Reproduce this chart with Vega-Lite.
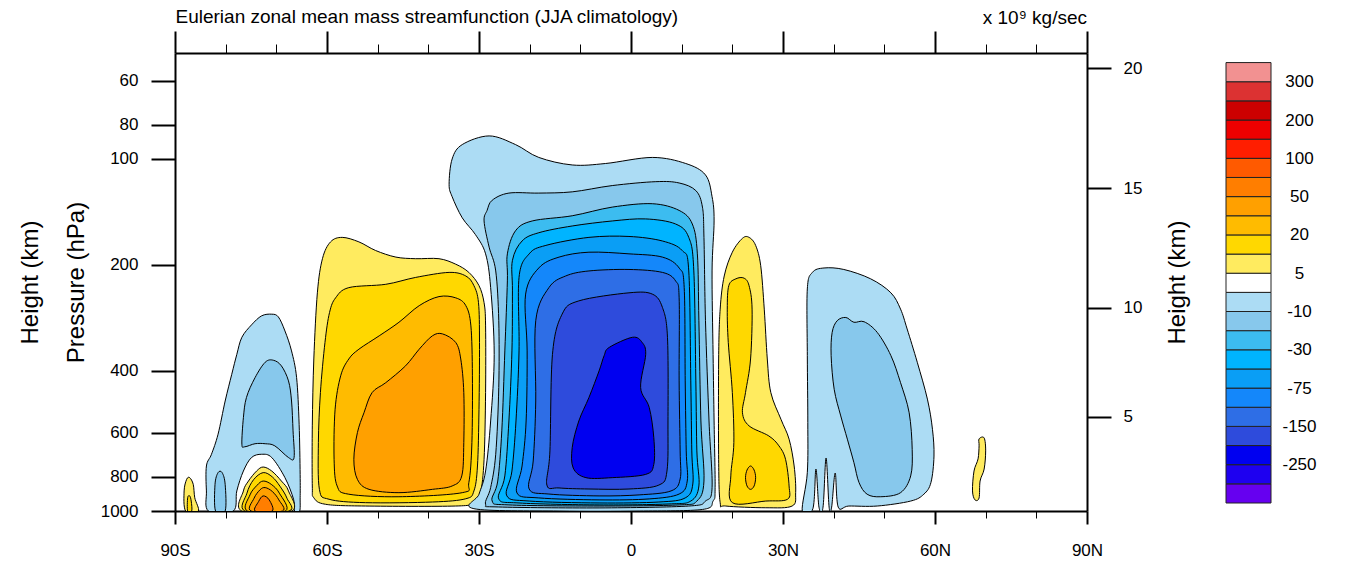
{
  "$schema": "https://vega.github.io/schema/vega-lite/v6.json",
  "padding": {"left": 18, "top": 7, "right": 0, "bottom": 0},
  "background": "white",
  "config": {
    "font": "Liberation Sans",
    "view": {"stroke": null},
    "axis": {"domainColor": "black", "tickColor": "black", "labelColor": "black", "titleColor": "black", "grid": false, "labelFont": "Liberation Sans", "titleFont": "Liberation Sans", "titleFontWeight": "normal"},
    "title": {"font": "Liberation Sans", "fontWeight": "normal", "color": "black"}
  },
  "datasets": {
    "poly": [
      {"g":"SHF5","lev":5,"x":-57.0,"y":167},{"g":"SHF5","lev":5,"x":-53.7,"y":172},{"g":"SHF5","lev":5,"x":-50.4,"y":182},{"g":"SHF5","lev":5,"x":-46.4,"y":190},{"g":"SHF5","lev":5,"x":-42.5,"y":192},{"g":"SHF5","lev":5,"x":-37.9,"y":192},{"g":"SHF5","lev":5,"x":-34.6,"y":199},{"g":"SHF5","lev":5,"x":-32.0,"y":210},{"g":"SHF5","lev":5,"x":-30.0,"y":229},{"g":"SHF5","lev":5,"x":-29.0,"y":256},{"g":"SHF5","lev":5,"x":-28.7,"y":298},{"g":"SHF5","lev":5,"x":-28.7,"y":461},{"g":"SHF5","lev":5,"x":-29.0,"y":713},{"g":"SHF5","lev":5,"x":-29.7,"y":887},{"g":"SHF5","lev":5,"x":-31.0,"y":947},{"g":"SHF5","lev":5,"x":-34.6,"y":968},{"g":"SHF5","lev":5,"x":-52.4,"y":968},{"g":"SHF5","lev":5,"x":-60.3,"y":957},{"g":"SHF5","lev":5,"x":-62.6,"y":917},{"g":"SHF5","lev":5,"x":-62.9,"y":849},{"g":"SHF5","lev":5,"x":-62.9,"y":573},{"g":"SHF5","lev":5,"x":-62.6,"y":370},{"g":"SHF5","lev":5,"x":-61.9,"y":240},{"g":"SHF5","lev":5,"x":-60.9,"y":192},{"g":"SHF5","lev":5,"x":-59.3,"y":172},
      {"g":"SHF10","lev":10,"x":-58.3,"y":248},{"g":"SHF10","lev":10,"x":-55.7,"y":232},{"g":"SHF10","lev":10,"x":-48.4,"y":227},{"g":"SHF10","lev":10,"x":-42.5,"y":217},{"g":"SHF10","lev":10,"x":-35.9,"y":210},{"g":"SHF10","lev":10,"x":-32.6,"y":215},{"g":"SHF10","lev":10,"x":-31.0,"y":229},{"g":"SHF10","lev":10,"x":-30.1,"y":256},{"g":"SHF10","lev":10,"x":-29.9,"y":332},{"g":"SHF10","lev":10,"x":-30.0,"y":514},{"g":"SHF10","lev":10,"x":-30.3,"y":745},{"g":"SHF10","lev":10,"x":-31.0,"y":877},{"g":"SHF10","lev":10,"x":-32.6,"y":923},{"g":"SHF10","lev":10,"x":-39.2,"y":943},{"g":"SHF10","lev":10,"x":-52.4,"y":947},{"g":"SHF10","lev":10,"x":-59.6,"y":926},{"g":"SHF10","lev":10,"x":-61.5,"y":868},{"g":"SHF10","lev":10,"x":-61.7,"y":639},{"g":"SHF10","lev":10,"x":-61.3,"y":461},{"g":"SHF10","lev":10,"x":-60.4,"y":332},{"g":"SHF10","lev":10,"x":-59.5,"y":273},
      {"g":"SHF20","lev":20,"x":-53.7,"y":347},{"g":"SHF20","lev":20,"x":-49.7,"y":318},{"g":"SHF20","lev":20,"x":-45.8,"y":291},{"g":"SHF20","lev":20,"x":-41.8,"y":261},{"g":"SHF20","lev":20,"x":-37.9,"y":246},{"g":"SHF20","lev":20,"x":-34.6,"y":248},{"g":"SHF20","lev":20,"x":-32.6,"y":261},{"g":"SHF20","lev":20,"x":-31.6,"y":298},{"g":"SHF20","lev":20,"x":-31.3,"y":413},{"g":"SHF20","lev":20,"x":-31.4,"y":639},{"g":"SHF20","lev":20,"x":-32.0,"y":830},{"g":"SHF20","lev":20,"x":-33.3,"y":887},{"g":"SHF20","lev":20,"x":-45.8,"y":911},{"g":"SHF20","lev":20,"x":-55.7,"y":896},{"g":"SHF20","lev":20,"x":-58.0,"y":849},{"g":"SHF20","lev":20,"x":-58.6,"y":713},{"g":"SHF20","lev":20,"x":-58.4,"y":514},{"g":"SHF20","lev":20,"x":-57.3,"y":413},{"g":"SHF20","lev":20,"x":-55.7,"y":370},
      {"g":"SHF30","lev":30,"x":-37.2,"y":314},{"g":"SHF30","lev":30,"x":-34.6,"y":332},{"g":"SHF30","lev":30,"x":-33.6,"y":370},{"g":"SHF30","lev":30,"x":-33.0,"y":461},{"g":"SHF30","lev":30,"x":-33.0,"y":639},{"g":"SHF30","lev":30,"x":-33.4,"y":795},{"g":"SHF30","lev":30,"x":-35.3,"y":849},{"g":"SHF30","lev":30,"x":-39.2,"y":868},{"g":"SHF30","lev":30,"x":-45.8,"y":887},{"g":"SHF30","lev":30,"x":-51.7,"y":868},{"g":"SHF30","lev":30,"x":-54.0,"y":813},{"g":"SHF30","lev":30,"x":-54.7,"y":713},{"g":"SHF30","lev":30,"x":-54.0,"y":599},{"g":"SHF30","lev":30,"x":-52.7,"y":526},{"g":"SHF30","lev":30,"x":-51.1,"y":461},{"g":"SHF30","lev":30,"x":-48.4,"y":432},{"g":"SHF30","lev":30,"x":-44.5,"y":387},{"g":"SHF30","lev":30,"x":-41.8,"y":347},{"g":"SHF30","lev":30,"x":-39.2,"y":318},
      {"g":"H5","lev":-5,"x":-31.0,"y":985},{"g":"H5","lev":-5,"x":-30.0,"y":896},{"g":"H5","lev":-5,"x":-28.7,"y":770},{"g":"H5","lev":-5,"x":-27.7,"y":555},{"g":"H5","lev":-5,"x":-27.0,"y":359},{"g":"H5","lev":-5,"x":-27.7,"y":232},{"g":"H5","lev":-5,"x":-28.7,"y":186},{"g":"H5","lev":-5,"x":-30.7,"y":164},{"g":"H5","lev":-5,"x":-33.3,"y":147},{"g":"H5","lev":-5,"x":-35.3,"y":128},{"g":"H5","lev":-5,"x":-35.9,"y":118},{"g":"H5","lev":-5,"x":-35.3,"y":100},{"g":"H5","lev":-5,"x":-33.3,"y":91},{"g":"H5","lev":-5,"x":-28.0,"y":86},{"g":"H5","lev":-5,"x":-22.8,"y":91},{"g":"H5","lev":-5,"x":-18.2,"y":99},{"g":"H5","lev":-5,"x":-11.6,"y":104},{"g":"H5","lev":-5,"x":-5.0,"y":103},{"g":"H5","lev":-5,"x":4.2,"y":99},{"g":"H5","lev":-5,"x":10.8,"y":103},{"g":"H5","lev":-5,"x":14.7,"y":111},{"g":"H5","lev":-5,"x":16.0,"y":128},{"g":"H5","lev":-5,"x":16.4,"y":150},{"g":"H5","lev":-5,"x":16.0,"y":208},{"g":"H5","lev":-5,"x":16.2,"y":359},{"g":"H5","lev":-5,"x":16.4,"y":555},{"g":"H5","lev":-5,"x":16.6,"y":858},{"g":"H5","lev":-5,"x":16.2,"y":937},{"g":"H5","lev":-5,"x":14.1,"y":990},{"g":"H5","lev":-5,"x":1.6,"y":1000},{"g":"H5","lev":-5,"x":-14.2,"y":1000},
      {"g":"H10","lev":-10,"x":-28.7,"y":957},{"g":"H10","lev":-10,"x":-27.7,"y":858},{"g":"H10","lev":-10,"x":-26.7,"y":690},{"g":"H10","lev":-10,"x":-26.1,"y":446},{"g":"H10","lev":-10,"x":-26.1,"y":288},{"g":"H10","lev":-10,"x":-26.7,"y":208},{"g":"H10","lev":-10,"x":-28.0,"y":178},{"g":"H10","lev":-10,"x":-29.0,"y":150},{"g":"H10","lev":-10,"x":-28.4,"y":140},{"g":"H10","lev":-10,"x":-27.4,"y":131},{"g":"H10","lev":-10,"x":-24.1,"y":125},{"g":"H10","lev":-10,"x":-18.2,"y":125},{"g":"H10","lev":-10,"x":-11.6,"y":124},{"g":"H10","lev":-10,"x":-3.7,"y":119},{"g":"H10","lev":-10,"x":4.9,"y":116},{"g":"H10","lev":-10,"x":9.5,"y":117},{"g":"H10","lev":-10,"x":12.8,"y":123},{"g":"H10","lev":-10,"x":14.1,"y":137},{"g":"H10","lev":-10,"x":14.4,"y":167},{"g":"H10","lev":-10,"x":14.7,"y":288},{"g":"H10","lev":-10,"x":15.4,"y":555},{"g":"H10","lev":-10,"x":16.0,"y":858},{"g":"H10","lev":-10,"x":14.7,"y":937},{"g":"H10","lev":-10,"x":11.4,"y":968},{"g":"H10","lev":-10,"x":-6.3,"y":980},{"g":"H10","lev":-10,"x":-26.1,"y":974},
      {"g":"H20","lev":-20,"x":-27.4,"y":937},{"g":"H20","lev":-20,"x":-26.3,"y":822},{"g":"H20","lev":-20,"x":-25.5,"y":592},{"g":"H20","lev":-20,"x":-24.9,"y":351},{"g":"H20","lev":-20,"x":-24.4,"y":222},{"g":"H20","lev":-20,"x":-24.4,"y":186},{"g":"H20","lev":-20,"x":-22.8,"y":160},{"g":"H20","lev":-20,"x":-19.5,"y":150},{"g":"H20","lev":-20,"x":-11.6,"y":145},{"g":"H20","lev":-20,"x":-3.7,"y":137},{"g":"H20","lev":-20,"x":4.2,"y":134},{"g":"H20","lev":-20,"x":9.5,"y":140},{"g":"H20","lev":-20,"x":12.1,"y":153},{"g":"H20","lev":-20,"x":13.1,"y":186},{"g":"H20","lev":-20,"x":13.4,"y":288},{"g":"H20","lev":-20,"x":13.8,"y":555},{"g":"H20","lev":-20,"x":14.4,"y":822},{"g":"H20","lev":-20,"x":13.0,"y":937},{"g":"H20","lev":-20,"x":9.5,"y":961},{"g":"H20","lev":-20,"x":-6.3,"y":968},{"g":"H20","lev":-20,"x":-24.1,"y":961},
      {"g":"H30","lev":-30,"x":-26.1,"y":924},{"g":"H30","lev":-30,"x":-24.9,"y":795},{"g":"H30","lev":-30,"x":-24.1,"y":555},{"g":"H30","lev":-30,"x":-23.5,"y":351},{"g":"H30","lev":-30,"x":-23.4,"y":237},{"g":"H30","lev":-30,"x":-23.4,"y":194},{"g":"H30","lev":-30,"x":-21.5,"y":171},{"g":"H30","lev":-30,"x":-18.2,"y":162},{"g":"H30","lev":-30,"x":-11.6,"y":155},{"g":"H30","lev":-30,"x":-3.7,"y":150},{"g":"H30","lev":-30,"x":2.9,"y":148},{"g":"H30","lev":-30,"x":8.8,"y":153},{"g":"H30","lev":-30,"x":11.4,"y":167},{"g":"H30","lev":-30,"x":12.4,"y":208},{"g":"H30","lev":-30,"x":12.8,"y":427},{"g":"H30","lev":-30,"x":13.0,"y":675},{"g":"H30","lev":-30,"x":13.4,"y":849},{"g":"H30","lev":-30,"x":11.8,"y":937},{"g":"H30","lev":-30,"x":7.5,"y":955},{"g":"H30","lev":-30,"x":-6.3,"y":961},{"g":"H30","lev":-30,"x":-22.1,"y":949},
      {"g":"H50","lev":-50,"x":-24.5,"y":906},{"g":"H50","lev":-50,"x":-23.5,"y":770},{"g":"H50","lev":-50,"x":-22.7,"y":555},{"g":"H50","lev":-50,"x":-22.1,"y":351},{"g":"H50","lev":-50,"x":-22.1,"y":217},{"g":"H50","lev":-50,"x":-20.1,"y":186},{"g":"H50","lev":-50,"x":-16.8,"y":176},{"g":"H50","lev":-50,"x":-8.3,"y":167},{"g":"H50","lev":-50,"x":-0.4,"y":166},{"g":"H50","lev":-50,"x":6.2,"y":171},{"g":"H50","lev":-50,"x":10.1,"y":182},{"g":"H50","lev":-50,"x":11.4,"y":208},{"g":"H50","lev":-50,"x":11.8,"y":427},{"g":"H50","lev":-50,"x":12.0,"y":675},{"g":"H50","lev":-50,"x":12.2,"y":838},{"g":"H50","lev":-50,"x":10.7,"y":918},{"g":"H50","lev":-50,"x":5.5,"y":943},{"g":"H50","lev":-50,"x":-6.3,"y":949},{"g":"H50","lev":-50,"x":-20.1,"y":937},
      {"g":"H75","lev":-75,"x":-22.5,"y":889},{"g":"H75","lev":-75,"x":-21.5,"y":745},{"g":"H75","lev":-75,"x":-20.7,"y":555},{"g":"H75","lev":-75,"x":-20.5,"y":351},{"g":"H75","lev":-75,"x":-20.8,"y":242},{"g":"H75","lev":-75,"x":-18.2,"y":204},{"g":"H75","lev":-75,"x":-14.2,"y":190},{"g":"H75","lev":-75,"x":-8.3,"y":184},{"g":"H75","lev":-75,"x":-0.4,"y":186},{"g":"H75","lev":-75,"x":6.2,"y":190},{"g":"H75","lev":-75,"x":9.5,"y":204},{"g":"H75","lev":-75,"x":10.5,"y":232},{"g":"H75","lev":-75,"x":10.7,"y":427},{"g":"H75","lev":-75,"x":10.9,"y":675},{"g":"H75","lev":-75,"x":11.1,"y":822},{"g":"H75","lev":-75,"x":9.5,"y":895},{"g":"H75","lev":-75,"x":3.6,"y":924},{"g":"H75","lev":-75,"x":-6.3,"y":930},{"g":"H75","lev":-75,"x":-18.2,"y":918},
      {"g":"H100","lev":-100,"x":-20.1,"y":866},{"g":"H100","lev":-100,"x":-19.3,"y":721},{"g":"H100","lev":-100,"x":-18.8,"y":487},{"g":"H100","lev":-100,"x":-18.8,"y":288},{"g":"H100","lev":-100,"x":-16.2,"y":232},{"g":"H100","lev":-100,"x":-12.9,"y":215},{"g":"H100","lev":-100,"x":-8.3,"y":208},{"g":"H100","lev":-100,"x":-0.4,"y":206},{"g":"H100","lev":-100,"x":6.2,"y":210},{"g":"H100","lev":-100,"x":8.8,"y":222},{"g":"H100","lev":-100,"x":9.5,"y":248},{"g":"H100","lev":-100,"x":9.5,"y":427},{"g":"H100","lev":-100,"x":9.7,"y":675},{"g":"H100","lev":-100,"x":9.7,"y":811},{"g":"H100","lev":-100,"x":7.9,"y":877},{"g":"H100","lev":-100,"x":1.6,"y":900},{"g":"H100","lev":-100,"x":-6.3,"y":906},{"g":"H100","lev":-100,"x":-16.2,"y":895},
      {"g":"H150","lev":-150,"x":-16.6,"y":844},{"g":"H150","lev":-150,"x":-16.0,"y":675},{"g":"H150","lev":-150,"x":-15.5,"y":359},{"g":"H150","lev":-150,"x":-13.6,"y":276},{"g":"H150","lev":-150,"x":-10.3,"y":253},{"g":"H150","lev":-150,"x":-0.4,"y":240},{"g":"H150","lev":-150,"x":4.2,"y":242},{"g":"H150","lev":-150,"x":6.2,"y":264},{"g":"H150","lev":-150,"x":7.2,"y":321},{"g":"H150","lev":-150,"x":7.3,"y":555},{"g":"H150","lev":-150,"x":7.1,"y":770},{"g":"H150","lev":-150,"x":5.5,"y":844},{"g":"H150","lev":-150,"x":-0.4,"y":866},{"g":"H150","lev":-150,"x":-8.3,"y":866},{"g":"H150","lev":-150,"x":-14.2,"y":860},
      {"g":"H200","lev":-200,"x":-11.4,"y":755},{"g":"H200","lev":-200,"x":-11.6,"y":660},{"g":"H200","lev":-200,"x":-10.3,"y":555},{"g":"H200","lev":-200,"x":-8.3,"y":476},{"g":"H200","lev":-200,"x":-6.3,"y":400},{"g":"H200","lev":-200,"x":-5.3,"y":362},{"g":"H200","lev":-200,"x":-4.3,"y":343},{"g":"H200","lev":-200,"x":0.3,"y":321},{"g":"H200","lev":-200,"x":2.2,"y":332},{"g":"H200","lev":-200,"x":2.9,"y":359},{"g":"H200","lev":-200,"x":1.9,"y":446},{"g":"H200","lev":-200,"x":3.6,"y":508},{"g":"H200","lev":-200,"x":4.5,"y":619},{"g":"H200","lev":-200,"x":4.5,"y":737},{"g":"H200","lev":-200,"x":2.9,"y":787},{"g":"H200","lev":-200,"x":-3.7,"y":804},{"g":"H200","lev":-200,"x":-8.9,"y":804},
      {"g":"P5n","lev":-5,"x":-83.8,"y":745},{"g":"P5n","lev":-5,"x":-82.8,"y":690},{"g":"P5n","lev":-5,"x":-81.5,"y":605},{"g":"P5n","lev":-5,"x":-80.1,"y":487},{"g":"P5n","lev":-5,"x":-78.8,"y":409},{"g":"P5n","lev":-5,"x":-77.8,"y":359},{"g":"P5n","lev":-5,"x":-76.8,"y":321},{"g":"P5n","lev":-5,"x":-74.9,"y":296},{"g":"P5n","lev":-5,"x":-72.9,"y":279},{"g":"P5n","lev":-5,"x":-70.9,"y":276},{"g":"P5n","lev":-5,"x":-69.6,"y":281},{"g":"P5n","lev":-5,"x":-68.3,"y":308},{"g":"P5n","lev":-5,"x":-67.0,"y":351},{"g":"P5n","lev":-5,"x":-66.0,"y":418},{"g":"P5n","lev":-5,"x":-65.5,"y":567},{"g":"P5n","lev":-5,"x":-65.3,"y":787},{"g":"P5n","lev":-5,"x":-65.3,"y":917},{"g":"P5n","lev":-5,"x":-65.4,"y":1000},{"g":"P5n","lev":-5,"x":-66.4,"y":1000},{"g":"P5n","lev":-5,"x":-66.6,"y":926},{"g":"P5n","lev":-5,"x":-68.3,"y":804},{"g":"P5n","lev":-5,"x":-70.9,"y":705},{"g":"P5n","lev":-5,"x":-72.9,"y":690},{"g":"P5n","lev":-5,"x":-74.9,"y":705},{"g":"P5n","lev":-5,"x":-76.5,"y":770},{"g":"P5n","lev":-5,"x":-77.8,"y":877},{"g":"P5n","lev":-5,"x":-78.5,"y":1000},{"g":"P5n","lev":-5,"x":-83.4,"y":1000},{"g":"P5n","lev":-5,"x":-83.8,"y":877},
      {"g":"P10n","lev":-10,"x":-76.8,"y":646},{"g":"P10n","lev":-10,"x":-76.5,"y":543},{"g":"P10n","lev":-10,"x":-75.9,"y":476},{"g":"P10n","lev":-10,"x":-74.2,"y":418},{"g":"P10n","lev":-10,"x":-72.2,"y":378},{"g":"P10n","lev":-10,"x":-70.6,"y":373},{"g":"P10n","lev":-10,"x":-69.0,"y":387},{"g":"P10n","lev":-10,"x":-67.6,"y":427},{"g":"P10n","lev":-10,"x":-67.0,"y":487},{"g":"P10n","lev":-10,"x":-66.7,"y":592},{"g":"P10n","lev":-10,"x":-66.5,"y":705},{"g":"P10n","lev":-10,"x":-67.6,"y":705},{"g":"P10n","lev":-10,"x":-70.3,"y":653},{"g":"P10n","lev":-10,"x":-72.2,"y":644},{"g":"P10n","lev":-10,"x":-74.2,"y":644},{"g":"P10n","lev":-10,"x":-76.2,"y":657},
      {"g":"P10f","lev":-10,"x":-82.0,"y":1000},{"g":"P10f","lev":-10,"x":-82.1,"y":840},{"g":"P10f","lev":-10,"x":-81.5,"y":778},{"g":"P10f","lev":-10,"x":-80.7,"y":778},{"g":"P10f","lev":-10,"x":-80.1,"y":840},{"g":"P10f","lev":-10,"x":-80.1,"y":1000},
      {"g":"PP5","lev":5,"x":-76.8,"y":1000},{"g":"PP5","lev":5,"x":-76.5,"y":877},{"g":"PP5","lev":5,"x":-75.5,"y":822},{"g":"PP5","lev":5,"x":-73.9,"y":770},{"g":"PP5","lev":5,"x":-72.6,"y":750},{"g":"PP5","lev":5,"x":-70.9,"y":770},{"g":"PP5","lev":5,"x":-69.0,"y":822},{"g":"PP5","lev":5,"x":-67.6,"y":877},{"g":"PP5","lev":5,"x":-67.0,"y":1000},
      {"g":"PP10","lev":10,"x":-76.2,"y":1000},{"g":"PP10","lev":10,"x":-75.8,"y":890},{"g":"PP10","lev":10,"x":-74.5,"y":815},{"g":"PP10","lev":10,"x":-72.6,"y":778},{"g":"PP10","lev":10,"x":-70.8,"y":800},{"g":"PP10","lev":10,"x":-69.3,"y":850},{"g":"PP10","lev":10,"x":-67.9,"y":920},{"g":"PP10","lev":10,"x":-67.5,"y":1000},
      {"g":"PP20","lev":20,"x":-75.7,"y":1000},{"g":"PP20","lev":20,"x":-75.2,"y":900},{"g":"PP20","lev":20,"x":-73.8,"y":845},{"g":"PP20","lev":20,"x":-72.6,"y":822},{"g":"PP20","lev":20,"x":-71.0,"y":840},{"g":"PP20","lev":20,"x":-69.4,"y":890},{"g":"PP20","lev":20,"x":-68.2,"y":1000},
      {"g":"PP30","lev":30,"x":-75.0,"y":1000},{"g":"PP30","lev":30,"x":-74.4,"y":920},{"g":"PP30","lev":30,"x":-73.2,"y":870},{"g":"PP30","lev":30,"x":-72.2,"y":858},{"g":"PP30","lev":30,"x":-70.8,"y":880},{"g":"PP30","lev":30,"x":-69.5,"y":930},{"g":"PP30","lev":30,"x":-68.8,"y":1000},
      {"g":"PP50","lev":50,"x":-74.2,"y":1000},{"g":"PP50","lev":50,"x":-73.5,"y":940},{"g":"PP50","lev":50,"x":-72.6,"y":906},{"g":"PP50","lev":50,"x":-71.4,"y":930},{"g":"PP50","lev":50,"x":-70.8,"y":1000},
      {"g":"S88a","lev":5,"x":-87.9,"y":1000},{"g":"S88a","lev":5,"x":-88.2,"y":877},{"g":"S88a","lev":5,"x":-87.7,"y":813},{"g":"S88a","lev":5,"x":-87.1,"y":804},{"g":"S88a","lev":5,"x":-86.4,"y":840},{"g":"S88a","lev":5,"x":-86.1,"y":917},{"g":"S88a","lev":5,"x":-85.4,"y":1000},
      {"g":"S88b","lev":10,"x":-87.5,"y":1000},{"g":"S88b","lev":10,"x":-87.5,"y":917},{"g":"S88b","lev":10,"x":-87.1,"y":906},{"g":"S88b","lev":10,"x":-86.8,"y":937},{"g":"S88b","lev":10,"x":-86.7,"y":1000},
      {"g":"N5","lev":5,"x":17.6,"y":947},{"g":"N5","lev":5,"x":17.3,"y":713},{"g":"N5","lev":5,"x":17.3,"y":370},{"g":"N5","lev":5,"x":17.6,"y":267},{"g":"N5","lev":5,"x":18.4,"y":215},{"g":"N5","lev":5,"x":20.0,"y":184},{"g":"N5","lev":5,"x":22.0,"y":168},{"g":"N5","lev":5,"x":23.3,"y":167},{"g":"N5","lev":5,"x":24.6,"y":176},{"g":"N5","lev":5,"x":25.6,"y":201},{"g":"N5","lev":5,"x":26.3,"y":267},{"g":"N5","lev":5,"x":26.9,"y":370},{"g":"N5","lev":5,"x":27.6,"y":461},{"g":"N5","lev":5,"x":29.6,"y":549},{"g":"N5","lev":5,"x":31.2,"y":625},{"g":"N5","lev":5,"x":32.2,"y":745},{"g":"N5","lev":5,"x":32.5,"y":887},{"g":"N5","lev":5,"x":31.8,"y":968},{"g":"N5","lev":5,"x":26.6,"y":979},{"g":"N5","lev":5,"x":18.7,"y":968},
      {"g":"N10","lev":10,"x":19.3,"y":229},{"g":"N10","lev":10,"x":20.7,"y":219},{"g":"N10","lev":10,"x":22.3,"y":218},{"g":"N10","lev":10,"x":23.3,"y":229},{"g":"N10","lev":10,"x":23.9,"y":267},{"g":"N10","lev":10,"x":23.6,"y":370},{"g":"N10","lev":10,"x":22.6,"y":461},{"g":"N10","lev":10,"x":22.0,"y":526},{"g":"N10","lev":10,"x":23.3,"y":573},{"g":"N10","lev":10,"x":27.2,"y":612},{"g":"N10","lev":10,"x":29.2,"y":653},{"g":"N10","lev":10,"x":30.5,"y":713},{"g":"N10","lev":10,"x":31.2,"y":849},{"g":"N10","lev":10,"x":30.9,"y":926},{"g":"N10","lev":10,"x":26.6,"y":937},{"g":"N10","lev":10,"x":20.0,"y":947},{"g":"N10","lev":10,"x":19.7,"y":795},{"g":"N10","lev":10,"x":20.3,"y":639},{"g":"N10","lev":10,"x":20.0,"y":461},{"g":"N10","lev":10,"x":19.2,"y":332},{"g":"N10","lev":10,"x":19.0,"y":267},
      {"g":"N20","lev":20,"x":23.6,"y":745},{"g":"N20","lev":20,"x":24.3,"y":765},{"g":"N20","lev":20,"x":24.6,"y":804},{"g":"N20","lev":20,"x":24.3,"y":849},{"g":"N20","lev":20,"x":23.6,"y":868},{"g":"N20","lev":20,"x":22.9,"y":849},{"g":"N20","lev":20,"x":22.6,"y":804},{"g":"N20","lev":20,"x":22.9,"y":765},
      {"g":"NF5","lev":-5,"x":33.8,"y":1000},{"g":"NF5","lev":-5,"x":34.8,"y":778},{"g":"NF5","lev":-5,"x":34.9,"y":561},{"g":"NF5","lev":-5,"x":34.8,"y":362},{"g":"NF5","lev":-5,"x":34.8,"y":234},{"g":"NF5","lev":-5,"x":35.8,"y":210},{"g":"NF5","lev":-5,"x":38.1,"y":204},{"g":"NF5","lev":-5,"x":42.0,"y":206},{"g":"NF5","lev":-5,"x":47.3,"y":219},{"g":"NF5","lev":-5,"x":51.3,"y":240},{"g":"NF5","lev":-5,"x":53.2,"y":267},{"g":"NF5","lev":-5,"x":54.5,"y":304},{"g":"NF5","lev":-5,"x":56.5,"y":378},{"g":"NF5","lev":-5,"x":58.5,"y":481},{"g":"NF5","lev":-5,"x":59.5,"y":586},{"g":"NF5","lev":-5,"x":59.8,"y":698},{"g":"NF5","lev":-5,"x":59.2,"y":830},{"g":"NF5","lev":-5,"x":57.8,"y":896},{"g":"NF5","lev":-5,"x":55.2,"y":937},{"g":"NF5","lev":-5,"x":48.6,"y":968},{"g":"NF5","lev":-5,"x":43.0,"y":968},{"g":"NF5","lev":-5,"x":40.9,"y":975},{"g":"NF5","lev":-5,"x":40.3,"y":780},{"g":"NF5","lev":-5,"x":39.6,"y":975},{"g":"NF5","lev":-5,"x":39.1,"y":975},{"g":"NF5","lev":-5,"x":38.5,"y":707},{"g":"NF5","lev":-5,"x":37.9,"y":975},{"g":"NF5","lev":-5,"x":37.1,"y":975},{"g":"NF5","lev":-5,"x":36.5,"y":760},{"g":"NF5","lev":-5,"x":35.9,"y":985},
      {"g":"NF10","lev":-10,"x":39.7,"y":311},{"g":"NF10","lev":-10,"x":40.7,"y":288},{"g":"NF10","lev":-10,"x":42.4,"y":282},{"g":"NF10","lev":-10,"x":44.0,"y":291},{"g":"NF10","lev":-10,"x":46.0,"y":290},{"g":"NF10","lev":-10,"x":48.6,"y":311},{"g":"NF10","lev":-10,"x":51.3,"y":362},{"g":"NF10","lev":-10,"x":53.2,"y":432},{"g":"NF10","lev":-10,"x":54.9,"y":526},{"g":"NF10","lev":-10,"x":55.5,"y":668},{"g":"NF10","lev":-10,"x":55.2,"y":795},{"g":"NF10","lev":-10,"x":53.2,"y":887},{"g":"NF10","lev":-10,"x":49.3,"y":911},{"g":"NF10","lev":-10,"x":46.6,"y":896},{"g":"NF10","lev":-10,"x":45.0,"y":830},{"g":"NF10","lev":-10,"x":44.0,"y":729},{"g":"NF10","lev":-10,"x":42.7,"y":625},{"g":"NF10","lev":-10,"x":41.4,"y":537},{"g":"NF10","lev":-10,"x":40.1,"y":451},{"g":"NF10","lev":-10,"x":39.5,"y":362},
      {"g":"N68","lev":5,"x":68.7,"y":624},{"g":"N68","lev":5,"x":69.7,"y":620},{"g":"N68","lev":5,"x":70.0,"y":675},{"g":"N68","lev":5,"x":69.7,"y":760},{"g":"N68","lev":5,"x":68.9,"y":822},{"g":"N68","lev":5,"x":68.7,"y":918},{"g":"N68","lev":5,"x":67.9,"y":930},{"g":"N68","lev":5,"x":67.4,"y":877},{"g":"N68","lev":5,"x":67.7,"y":770},{"g":"N68","lev":5,"x":68.5,"y":711},{"g":"N68","lev":5,"x":68.7,"y":653}
    ],
    "bar": [
      {"k":0,"k2":1},{"k":1,"k2":2},{"k":2,"k2":3},{"k":3,"k2":4},{"k":4,"k2":5},{"k":5,"k2":6},{"k":6,"k2":7},{"k":7,"k2":8},{"k":8,"k2":9},{"k":9,"k2":10},{"k":10,"k2":11},{"k":11,"k2":12},{"k":12,"k2":13},{"k":13,"k2":14},{"k":14,"k2":15},{"k":15,"k2":16},{"k":16,"k2":17},{"k":17,"k2":18},{"k":18,"k2":19},{"k":19,"k2":20},{"k":20,"k2":21},{"k":21,"k2":22},{"k":22,"k2":23}
    ]
  },
  "hconcat": [
    {
      "width": 912,
      "height": 458,
      "title": {"text": "x 10⁹  kg/sec", "anchor": "end", "frame": "group", "fontSize": 19, "offset": -21},
      "data": {"name": "poly"},
      "layer": [
        {
          "mark": {"type": "line", "filled": true, "stroke": "black", "strokeWidth": 1, "interpolate": "cardinal-closed", "clip": true},
          "encoding": {
            "x": {"field": "x", "type": "quantitative", "scale": {"domain": [-90, 90], "nice": false, "zero": false},
              "axis": {"orient": "bottom", "values": [-90, -60, -30, 0, 30, 60, 90],
                "labelExpr": "datum.value == 0 ? '0' : (datum.value < 0 ? (-datum.value) + 'S' : datum.value + 'N')",
                "tickSize": 13, "tickWidth": 2, "domainWidth": 2, "labelFontSize": 17, "labelPadding": 18, "title": null, "labelFlush": false, "labelOverlap": false}},
            "y": {"field": "y", "type": "quantitative", "scale": {"type": "log", "domain": [50, 1000], "reverse": true, "nice": false},
              "axis": {"orient": "left", "values": [1000, 800, 600, 400, 200, 100, 80, 60], "format": "d", "tickSize": 24, "tickWidth": 2, "domainWidth": 2,
                "labelFontSize": 17, "labelPadding": 13, "title": ["Height (km)", "Pressure (hPa)"], "titleFontSize": 24, "titleLineHeight": 46, "titlePadding": 12}},
            "detail": {"field": "g", "type": "nominal"},
            "color": {"field": "lev", "type": "nominal", "legend": null,
              "scale": {"domain": [-5,-10,-20,-30,-50,-75,-100,-150,-200,5,10,20,30,50,75],
                "range": ["#ACDCF4","#87C8EC","#3CBCF0","#00B4FF","#0A9EF5","#1487FA","#2E6EE6","#2E4BDC","#0000F0","#FFEB5F","#FFD800","#FFBB00","#FFA000","#FF7E00","#FF5A00"]}},
            "order": {"value": null}
          }
        },
        {
          "mark": {"type": "point", "opacity": 0},
          "encoding": {
            "x": {"field": "x", "type": "quantitative",
              "axis": {"orient": "top", "values": [-90,-80,-70,-60,-50,-40,-30,-20,-10,0,10,20,30,40,50,60,70,80,90], "labels": false,
                "tickSize": {"condition": {"test": "datum.value % 30 == 0", "value": 22}, "value": 9},
                "tickWidth": {"condition": {"test": "datum.value % 30 == 0", "value": 2}, "value": 1},
                "domainWidth": 2, "title": "Eulerian zonal mean mass streamfunction (JJA climatology)", "titleAnchor": "start", "titleAlign": "left", "titleFontSize": 19, "titlePadding": 4}},
            "y": {"field": "y", "type": "quantitative",
              "axis": {"orient": "right", "values": [540.5, 265, 121.1, 55.3],
                "labelExpr": "datum.value > 500 ? '5' : (datum.value > 200 ? '10' : (datum.value > 100 ? '15' : '20'))",
                "tickSize": 24, "tickWidth": 2, "domainWidth": 2, "labelFontSize": 17, "labelPadding": 12,
                "title": "Height (km)", "titleFontSize": 24, "titleAngle": 270, "titleBaseline": "top", "titlePadding": 24}}
          }
        },
        {
          "mark": {"type": "point", "opacity": 0},
          "encoding": {
            "x": {"field": "x", "type": "quantitative",
              "axis": {"orient": "bottom", "values": [-80,-70,-50,-40,-20,-10,10,20,40,50,70,80], "labels": false,
                "tickSize": 7, "tickWidth": 1, "domain": false, "title": null}},
            "y": {"field": "y", "type": "quantitative", "axis": null}
          }
        }
      ],
      "resolve": {"axis": {"x": "independent", "y": "independent"}}
    },
    {
      "width": 45,
      "height": 450,
      "data": {"name": "bar"},
      "mark": {"type": "rect", "stroke": "#222222", "strokeWidth": 1},
      "encoding": {
        "y": {"field": "k", "type": "quantitative", "scale": {"domain": [0, 23.5], "nice": false, "zero": false},
          "axis": {"orient": "right", "values": [2,4,6,8,10,12,14,16,18,20,22],
            "labelExpr": "['','','-250','','-150','','-75','','-30','','-10','','5','','20','','50','','100','','200','','300'][datum.value]",
            "ticks": false, "domain": false, "labelPadding": 28, "labelAlign": "center", "labelFontSize": 17, "title": null}},
        "y2": {"field": "k2"},
        "color": {"field": "k", "type": "ordinal", "legend": null,
          "scale": {"range": ["#6600F0","#1E00F0","#0000F0","#2E4BDC","#2E6EE6","#1487FA","#0A9EF5","#00B4FF","#3CBCF0","#87C8EC","#ACDCF4","#FFFFFF","#FFEB5F","#FFD800","#FFBB00","#FFA000","#FF7E00","#FF5A00","#FF1E00","#EE0000","#CC0000","#DC3232","#F29191"]}}
      }
    }
  ],
  "spacing": 35,
  "resolve": {"scale": {"color": "independent", "x": "independent", "y": "independent"}}
}
